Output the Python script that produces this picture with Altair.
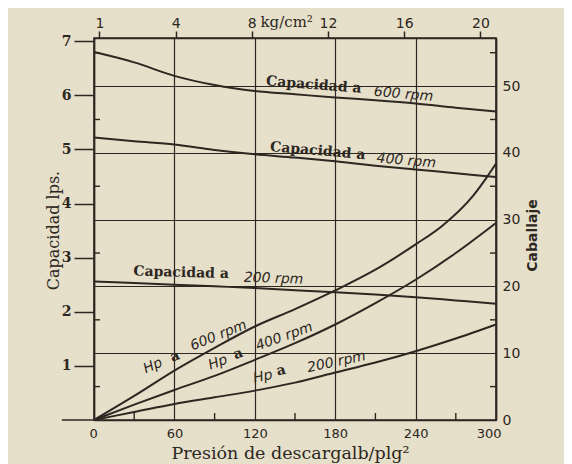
import altair as alt
import pandas as pd

# ---------------- data ----------------
PSI = [0, 30, 60, 90, 120, 150, 180, 210, 240, 270, 300]
CAP_600 = [6.80, 6.61, 6.36, 6.19, 6.08, 6.02, 5.96, 5.91, 5.85, 5.77, 5.70]
CAP_400 = [5.22, 5.15, 5.09, 4.99, 4.91, 4.85, 4.78, 4.70, 4.63, 4.56, 4.49]
CAP_200 = [2.56, 2.53, 2.50, 2.47, 2.44, 2.40, 2.36, 2.32, 2.27, 2.21, 2.15]

HP600_PSI = [0, 30, 60, 90, 120, 150, 180, 210, 240, 260, 283, 294, 300]
HP_600 = [0, 3.6, 7.4, 10.8, 14.0, 16.6, 19.4, 22.5, 26.3, 29.1, 33.6, 36.6, 38.4]
HP_400 = [0, 2.3, 4.5, 6.6, 9.0, 11.5, 14.3, 17.5, 21.0, 25.0, 29.5]
HP_200 = [0, 1.2, 2.4, 3.4, 4.4, 5.6, 7.1, 8.6, 10.3, 12.2, 14.3]

BOTTOM_TICKS = [0, 60, 120, 180, 240, 300]
MINOR_PSI = [30, 90, 150, 210, 270]
LEFT_TICKS = [1, 2, 3, 4, 5, 6, 7]
RIGHT_TICKS = [0, 10, 20, 30, 40, 50]
MINOR_HP = [5, 15, 25, 35, 45, 55]
KG_TICKS = [0, 4, 8, 12, 16, 20]
PSI_PER_KG = 14.22
KG_OFFSET_PSI = 4.0

# curve annotations (serif part / italic sans part)
SERIF_TEXT = ["Capacidad a", "Capacidad a", "Capacidad a", "a", "a", "a"]
SERIF_PSI = [164, 167, 65, 60.4, 107.5, 139.6]
SERIF_LPS = [6.19, 4.97, 2.72, 1.17, 1.22, 0.91]
SERIF_ANG = [4.5, 5, 1.5, 338, 340, 348]

ITAL_TEXT = ["600 rpm", "400 rpm", "200 rpm", "Hp", "600 rpm", "Hp", "400 rpm", "Hp", "200 rpm"]
ITAL_PSI = [231, 233, 134, 44, 93, 92.5, 142, 126, 181]
ITAL_LPS = [6.02, 4.79, 2.61, 1.0, 1.56, 1.06, 1.54, 0.80, 1.07]
ITAL_ANG = [5, 5, 2, 336, 338, 340, 340, 348, 348]

INK = "#2c2721"
BG = "#e6dfca"
W, H = 402, 382

# ---------------- tables ----------------
cap = pd.concat([
    pd.DataFrame({"psi": PSI, "lps": CAP_600, "serie": "600"}),
    pd.DataFrame({"psi": PSI, "lps": CAP_400, "serie": "400"}),
    pd.DataFrame({"psi": PSI, "lps": CAP_200, "serie": "200"}),
])
hp = pd.concat([
    pd.DataFrame({"psi": HP600_PSI, "hp": HP_600, "serie": "600"}),
    pd.DataFrame({"psi": PSI, "hp": HP_400, "serie": "400"}),
    pd.DataFrame({"psi": PSI, "hp": HP_200, "serie": "200"}),
])
serif_df = pd.DataFrame({"psi": SERIF_PSI, "lps": SERIF_LPS, "t": SERIF_TEXT, "angle": SERIF_ANG})
ital_df = pd.DataFrame({"psi": ITAL_PSI, "lps": ITAL_LPS, "t": ITAL_TEXT, "angle": ITAL_ANG})
ext_df = pd.DataFrame({"psi": [-24], "psi2": [0], "lps": [0]})
minor_hp_df = pd.DataFrame({"hp": MINOR_HP})
minor_psi_df = pd.DataFrame({"psi": MINOR_PSI})
kg_df = pd.DataFrame({"kg": KG_TICKS})

# ---------------- encodings ----------------
X1 = alt.X("psi:Q", scale=alt.Scale(domain=[0, 300], nice=False, zero=False),
           axis=alt.Axis(values=BOTTOM_TICKS, grid=True, gridColor=INK, gridWidth=1.2,
                         gridOpacity=1, ticks=False, domainColor=INK, domainWidth=1.6,
                         labelFont="DejaVu Sans", labelFontSize=13, labelColor=INK,
                         labelPadding=7, labelFlush=True, labelFlushOffset=5,
                         title="Presión de descargalb/plg²", titleFont="DejaVu Serif",
                         titleFontSize=17.5, titleFontWeight="normal", titleColor=INK,
                         titleX=196, titleY=33, titleAlign="center", titleBaseline="middle"))
Y1 = alt.Y("lps:Q", scale=alt.Scale(domain=[0, 7.06], nice=False),
           axis=alt.Axis(values=LEFT_TICKS, grid=False, tickSize=20, tickColor=INK,
                         tickWidth=1.5, domainColor=INK, domainWidth=1.6,
                         labelFont="DejaVu Serif", labelFontWeight="bold", labelFontSize=14,
                         labelColor=INK, labelPadding=3, labelFlush=False,
                         title="Capacidad lps.", titleFont="DejaVu Serif", titleFontSize=16,
                         titleFontWeight="normal", titleColor=INK, titleAngle=270,
                         titleX=-41, titleY=192, titleAlign="center", titleBaseline="middle"))

X2 = alt.X("psi:Q", scale=alt.Scale(domain=[0, 300], nice=False, zero=False), axis=None)
Y2 = alt.Y("hp:Q", scale=alt.Scale(domain=[0, 57.2], nice=False),
           axis=alt.Axis(orient="right", values=RIGHT_TICKS, grid=True, gridColor=INK,
                         gridWidth=1.2, gridOpacity=1, ticks=False, domainColor=INK,
                         domainWidth=1.6, labelFont="DejaVu Sans", labelFontSize=14,
                         labelColor=INK, labelPadding=6, labelFlush=False,
                         title="Caballaje", titleFont="DejaVu Sans", titleFontSize=14,
                         titleFontWeight="bold", titleColor=INK, titleAngle=270,
                         titleX=36, titleY=197, titleAlign="center", titleBaseline="middle"))

KG0 = (0 - KG_OFFSET_PSI) / PSI_PER_KG
KG1 = (300 - KG_OFFSET_PSI) / PSI_PER_KG
X3 = alt.X("kg:Q", scale=alt.Scale(domain=[KG0, KG1], nice=False, zero=False),
           axis=alt.Axis(orient="top", values=KG_TICKS, grid=False, tickSize=7,
                         tickColor=INK, tickWidth=1.5, domainColor=INK, domainWidth=1.6,
                         labelExpr="datum.value == 0 ? '1' : datum.label",
                         labelFont="DejaVu Sans", labelFontSize=14, labelColor=INK,
                         labelPadding=1, labelFlush=False,
                         title="kg/cm²", titleFont="DejaVu Serif", titleFontSize=15,
                         titleFontWeight="normal", titleColor=INK, titleAngle=0,
                         titleX=166, titleY=-17, titleAlign="left", titleBaseline="middle"))

# ---------------- group 1: capacity (left axis) ----------------
cap_lines = alt.Chart(cap).mark_line(color=INK, strokeWidth=2, interpolate="monotone").encode(
    x=X1, y=Y1, detail="serie:N")
ext = alt.Chart(ext_df).mark_rule(color=INK, strokeWidth=1.6).encode(x=X1, x2="psi2:Q", y=Y1)
serif_txt = alt.Chart(serif_df).mark_text(font="DejaVu Serif", fontSize=14, fontWeight="bold",
                                          color=INK, align="center", baseline="middle").encode(
    x=X1, y=Y1, text="t:N", angle=alt.Angle("angle:Q", scale=None))
ital_txt = alt.Chart(ital_df).mark_text(font="DejaVu Sans", fontStyle="italic", fontSize=14,
                                        color=INK, align="center", baseline="middle").encode(
    x=X1, y=Y1, text="t:N", angle=alt.Angle("angle:Q", scale=None))
g1 = alt.layer(cap_lines, ext, serif_txt, ital_txt)

# ---------------- group 2: horsepower (right axis) ----------------
hp_lines = alt.Chart(hp).mark_line(color=INK, strokeWidth=2, interpolate="monotone").encode(
    x=X2, y=Y2, detail="serie:N")
minor_l = alt.Chart(minor_hp_df).mark_rule(color=INK, strokeWidth=1.4).encode(
    y=Y2, x=alt.value(0), x2=alt.value(6))
minor_r = alt.Chart(minor_hp_df).mark_rule(color=INK, strokeWidth=1.4).encode(
    y=Y2, x=alt.value(W), x2=alt.value(W - 6))
minor_b = alt.Chart(minor_psi_df).mark_rule(color=INK, strokeWidth=1.4).encode(
    x=X2, y=alt.value(H), y2=alt.value(H - 7))
g2 = alt.layer(hp_lines, minor_l, minor_r, minor_b)

# ---------------- group 3: top kg/cm² axis ----------------
g3 = alt.Chart(kg_df).mark_point(opacity=0).encode(x=X3, y=alt.value(0))

chart = alt.layer(g1, g2, g3).resolve_scale(x="independent", y="independent").properties(
    width=W, height=H,
    autosize=alt.AutoSizeParams(type="none"),
    padding={"left": 86, "top": 30, "right": 68, "bottom": 44},
    background=BG,
).configure_view(stroke=INK, strokeWidth=1.6)

chart.save("out.html", embed_options={"renderer": "svg", "actions": False})
